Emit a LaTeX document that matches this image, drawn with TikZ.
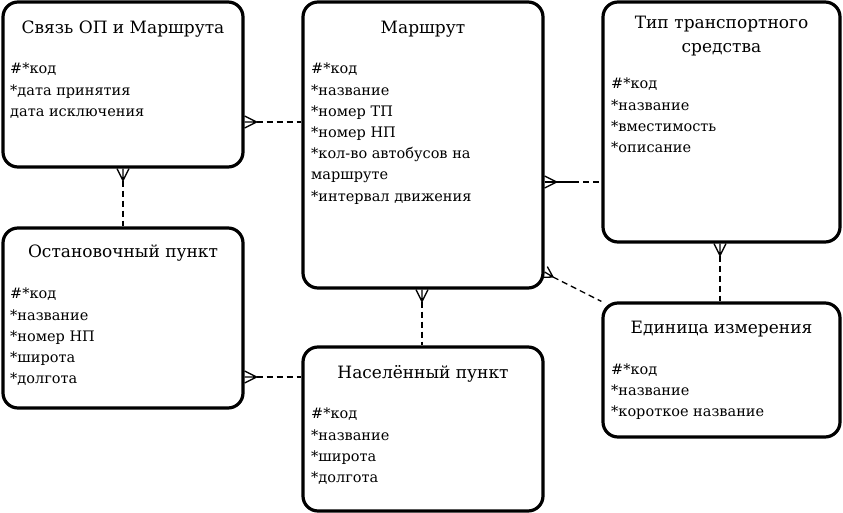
\documentclass[tikz,border=0pt]{standalone}
\usepackage{fontspec}
\setmainfont{DejaVu Serif}
\usetikzlibrary{calc}
\tikzset{
  ent/.style={draw=black, line width=3.2pt, rounded corners=15pt, fill=white, inner sep=0pt},
  ttl/.style={font=\fontsize{17}{24}\selectfont, align=center, inner sep=0pt},
  attr/.style={font=\fontsize{14.5}{21.2}\selectfont, align=left, anchor=north west, inner sep=0pt},
  conn/.style={line width=1.3pt, dash pattern=on 6pt off 4pt},
  solidc/.style={line width=1.3pt},
  crow/.style={line width=1.3pt}
}
\begin{document}
\begin{tikzpicture}[x=1pt,y=-1pt]
\useasboundingbox (0,0) rectangle (843,513);
% entities
\node[ent, minimum width=240pt, minimum height=165pt] (svyaz) at (123,84.5) {};
\node[ent, minimum width=240pt, minimum height=286pt] (marsh) at (423,145) {};
\node[ent, minimum width=237pt, minimum height=240pt] (tip) at (721.5,122) {};
\node[ent, minimum width=240pt, minimum height=180pt] (ost) at (123,318) {};
\node[ent, minimum width=240pt, minimum height=164pt] (nas) at (423,429) {};
\node[ent, minimum width=237pt, minimum height=134pt] (ed) at (721.5,370) {};
% titles
\node[ttl] (svyazT) at (123,29.5) {Связь ОП и Маршрута};
\node[ttl] (marshT) at (423,29.5) {Маршрут};
\node[ttl, text width=230pt] (tipT) at (721.5,36) {Тип транспортного\\средства};
\node[ttl] (ostT) at (123,253) {Остановочный пункт};
\node[ttl] (nasT) at (423,374) {Населённый пункт};
\node[ttl] (edT) at (721.5,329) {Единица измерения};
% attributes
\node[attr] (svyazA) at (10,63) {\#*код\\*дата принятия\\дата исключения};
\node[attr] (marshA) at (311,63) {\#*код\\*название\\*номер ТП\\*номер НП\\*кол-во автобусов на\\маршруте\\*интервал движения};
\node[attr] (tipA) at (611,78) {\#*код\\*название\\*вместимость\\*описание};
\node[attr] (ostA) at (10,288) {\#*код\\*название\\*номер НП\\*широта\\*долгота};
\node[attr] (nasA) at (311,408) {\#*код\\*название\\*широта\\*долгота};
\node[attr] (edA) at (611,363.5) {\#*код\\*название\\*короткое название};
% connectors
\draw[conn] ($(svyaz.east|-0,122)+(12,0)$) -- (marsh.west|-0,122);
\draw[crow] (svyaz.east|-0,116) -- ($(svyaz.east|-0,122)+(12,0)$) -- (svyaz.east|-0,128)
            (svyaz.east|-0,122) -- ($(svyaz.east|-0,122)+(12,0)$);
\draw[conn] ($(svyaz.south)+(0,12)$) -- (ost.north);
\draw[crow] ($(svyaz.south)+(-6,0)$) -- ($(svyaz.south)+(0,12)$) -- ($(svyaz.south)+(6,0)$)
            (svyaz.south) -- ($(svyaz.south)+(0,12)$);
\coordinate (m3) at (573,182);
\draw[solidc] (marsh.east|-0,182) -- (m3);
\draw[conn] (m3) -- (tip.west|-0,182);
\draw[crow] (marsh.east|-0,176) -- ($(marsh.east|-0,182)+(12,0)$) -- (marsh.east|-0,188);
\coordinate (d4) at (553,277);
\draw[conn] (d4) -- (ed.north west);
\draw[crow] ($(marsh.east|-0,272)+(-2.7,5.4)$) -- (d4) -- ($(marsh.east|-0,272)+(2.7,-5.4)$)
            (marsh.east|-0,272) -- (d4);
\draw[conn] ($(tip.south-|720,0)+(0,12)$) -- (ed.north-|720,0);
\draw[crow] ($(tip.south-|720,0)+(-6,0)$) -- ($(tip.south-|720,0)+(0,12)$) -- ($(tip.south-|720,0)+(6,0)$)
            (tip.south-|720,0) -- ($(tip.south-|720,0)+(0,12)$);
\draw[conn] ($(marsh.south-|422,0)+(0,12)$) -- (nas.north-|422,0);
\draw[crow] ($(marsh.south-|422,0)+(-6,0)$) -- ($(marsh.south-|422,0)+(0,12)$) -- ($(marsh.south-|422,0)+(6,0)$)
            (marsh.south-|422,0) -- ($(marsh.south-|422,0)+(0,12)$);
\draw[conn] ($(ost.east|-0,377)+(12,0)$) -- (nas.west|-0,377);
\draw[crow] (ost.east|-0,371) -- ($(ost.east|-0,377)+(12,0)$) -- (ost.east|-0,383)
            (ost.east|-0,377) -- ($(ost.east|-0,377)+(12,0)$);
\end{tikzpicture}
\end{document}
